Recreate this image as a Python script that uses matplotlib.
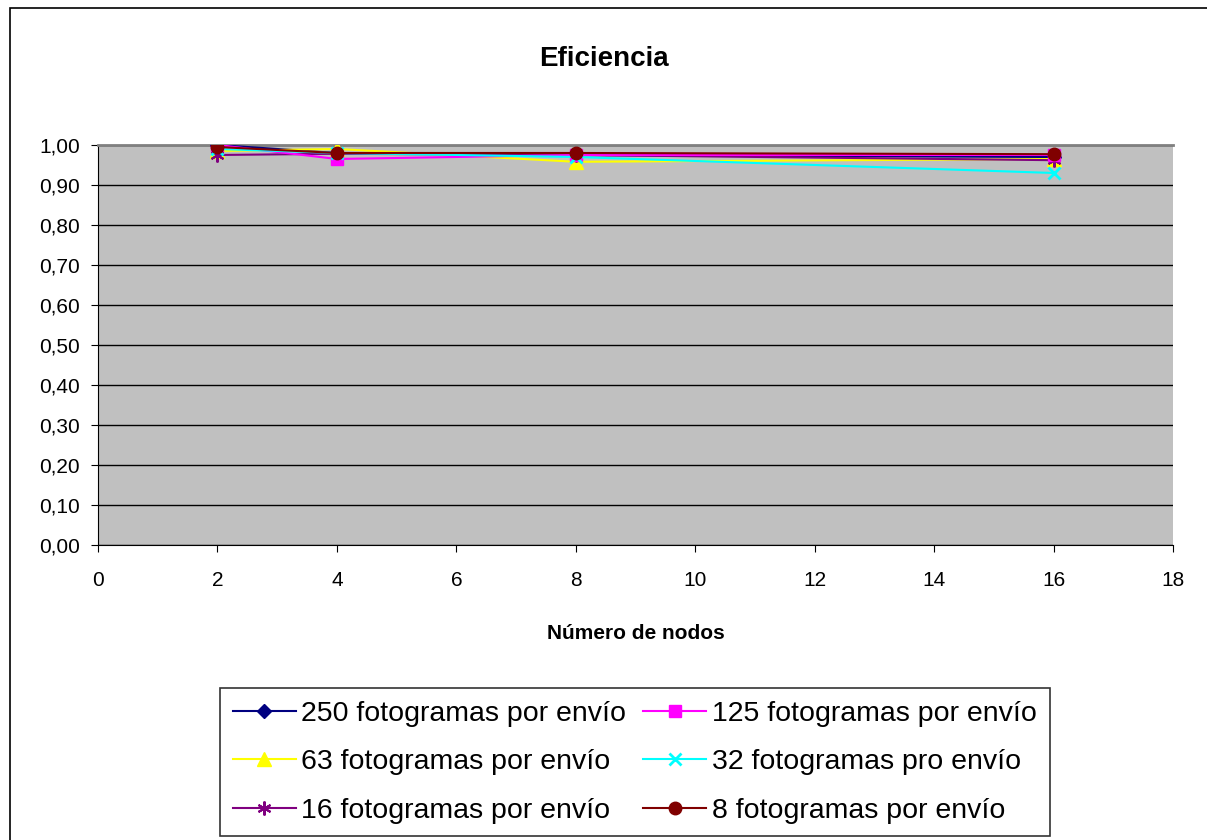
import numpy as np
import matplotlib
matplotlib.use('Agg')
import matplotlib.pyplot as plt
from matplotlib.patches import Rectangle

plt.rcParams['font.family'] = ['Liberation Sans', 'DejaVu Sans']

nodos = [2, 4, 8, 16]
ef_250 = [1.00, 0.98, 0.975, 0.97]
ef_125 = [1.00, 0.965, 0.975, 0.975]
ef_63 = [0.985, 0.99, 0.958, 0.965]
ef_32 = [0.99, 0.98, 0.97, 0.93]
ef_16 = [0.975, 0.978, 0.975, 0.962]
ef_8 = [0.995, 0.98, 0.98, 0.977]

series = [
    ('250 fotogramas por envío', ef_250, '#000080', 'D', 7),
    ('63 fotogramas por envío', ef_63, '#FFFF00', '^', 10),
    ('16 fotogramas por envío', ef_16, '#800080', '*', 0),
    ('125 fotogramas por envío', ef_125, '#FF00FF', 's', 8),
    ('32 fotogramas pro envío', ef_32, '#00FFFF', 'x', 9),
    ('8 fotogramas por envío', ef_8, '#800000', 'o', 9),
]

fig = plt.figure(figsize=(12.07, 8.40), dpi=100)
fig.patches.append(Rectangle((0.008, -0.01), 1.0, 1.0, transform=fig.transFigure,
                             fill=False, edgecolor='black', linewidth=1.2))
ax = fig.add_axes([0.0812, 0.3512, 0.8906, 0.4762])
ax.set_facecolor('#C0C0C0')

handles = []
for label, vals, color, marker, ms in series:
    if marker == '*':
        h, = ax.plot(nodos, vals, color=color, marker=(6, 2, 0), markersize=10,
                     markeredgewidth=1.5, linewidth=1.5, label=label)
    else:
        h, = ax.plot(nodos, vals, color=color, marker=marker, markersize=ms,
                     markeredgewidth=2 if marker == 'x' else 1, linewidth=1.5, label=label)
    handles.append(h)

for h in handles:
    h.set_zorder(3)
handles[5].set_zorder(4)

ax.set_xlim(0, 18)
ax.set_ylim(0, 1.0)
ax.set_xticks(range(0, 19, 2))
ax.set_yticks(np.arange(0, 1.01, 0.1))
ax.set_yticklabels([f'{v:.2f}'.replace('.', ',') for v in np.arange(0, 1.01, 0.1)])
ax.yaxis.grid(True, color='black', linewidth=1)
ax.set_axisbelow(True)
ax.tick_params(labelsize=15, direction='out', length=5, color='black')
ax.tick_params(axis='x', pad=14)
ax.tick_params(axis='y', pad=8)
ax.spines['top'].set_color('#808080')
ax.spines['top'].set_linewidth(2)
ax.spines['right'].set_visible(False)

fig.text(0.5, 0.93, 'Eficiencia', ha='center', va='center', fontsize=20, fontweight='bold')
ax.set_xlabel('Número de nodos', fontsize=15, fontweight='bold', labelpad=24)

leg = fig.legend(handles=handles, loc='center', ncol=2, fontsize=20.5,
                 bbox_to_anchor=(0.526, 0.0925), frameon=True, fancybox=False,
                 edgecolor='black', handlelength=2.2, handletextpad=0.2,
                 columnspacing=0.6, borderaxespad=0, borderpad=0.45,
                 labelspacing=0.78)
leg.get_frame().set_linewidth(1.2)

fig.savefig('out.png', dpi=100)
